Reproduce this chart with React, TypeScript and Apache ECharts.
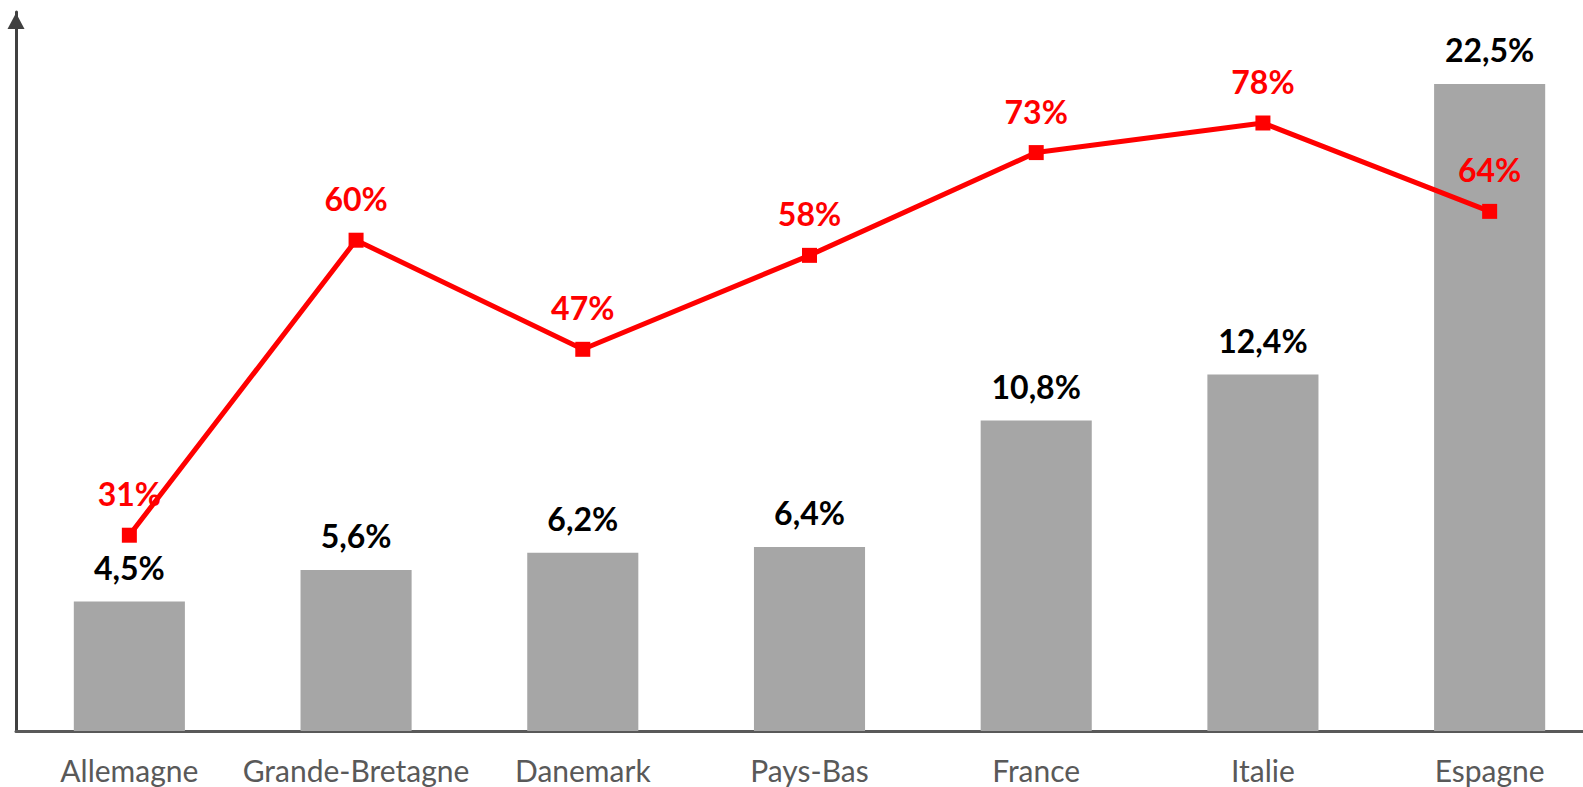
import React, { useEffect, useRef } from "react";
import * as echarts from "echarts";

const categories = ["Allemagne", "Grande-Bretagne", "Danemark", "Pays-Bas", "France", "Italie", "Espagne"];
const barValues = [4.5, 5.6, 6.2, 6.4, 10.8, 12.4, 22.5];
const lineValues = [31, 60, 47, 58, 73, 78, 64];

export default function App() {
  const ref = useRef<HTMLDivElement>(null);
  useEffect(() => {
    document.body.style.margin = "0";
    document.body.style.overflow = "hidden";
    const chart = echarts.init(ref.current!, null, { renderer: "svg" });
    chart.setOption({
      animation: false,
      backgroundColor: "#ffffff",
      grid: { left: 16, right: 0, top: 12, bottom: 56 },
      xAxis: {
        type: "category",
        data: categories,
        axisTick: { show: false },
        axisLine: { lineStyle: { color: "#595959", width: 3 } },
        axisLabel: {
          color: "#595959",
          fontFamily: "Lato",
          fontSize: 30,
          margin: 24,
          interval: 0,
        },
      },
      yAxis: [
        {
          type: "value",
          min: 0,
          max: 25,
          splitLine: { show: false },
          axisTick: { show: false },
          axisLabel: { show: false },
          axisLine: {
            show: true,
            symbol: ["none", "triangle"],
            symbolSize: [17, 16],
            symbolOffset: [0, -9],
            lineStyle: { color: "#404040", width: 3 },
          },
        },
        {
          type: "log",
          logBase: 10,
          min: 20,
          max: 100,
          show: false,
          splitLine: { show: false },
        },
      ],
      series: [
        {
          type: "bar",
          data: barValues,
          barWidth: "49%",
          itemStyle: { color: "#A6A6A6" },
          label: {
            show: true,
            position: "top",
            distance: 18,
            color: "#000000",
            fontFamily: "Lato",
            fontWeight: "bold",
            fontSize: 32,
            lineHeight: 32,
            formatter: (p: any) => String(p.value).replace(".", ",") + "%",
          },
        },
        {
          type: "line",
          yAxisIndex: 1,
          data: lineValues,
          symbol: "rect",
          symbolSize: 15,
          lineStyle: { color: "#FF0000", width: 5 },
          itemStyle: { color: "#FF0000" },
          z: 3,
          label: {
            show: true,
            position: "top",
            distance: 18,
            color: "#FF0000",
            fontFamily: "Lato",
            fontWeight: "bold",
            fontSize: 32,
            lineHeight: 32,
            formatter: (p: any) => p.value + "%",
          },
        },
      ],
    });
    return () => chart.dispose();
  }, []);
  return (
    <div style={{ width: 1583, height: 787, overflow: "hidden" }}>
      <div ref={ref} style={{ width: 1603, height: 787 }} />
    </div>
  );
}
